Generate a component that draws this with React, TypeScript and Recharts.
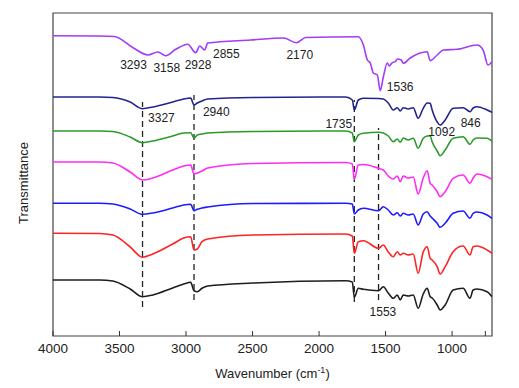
import { LineChart, Line, XAxis, YAxis, ReferenceArea, ReferenceLine, ReferenceDot } from "recharts";

// wavenumbers (cm-1) for the six lower spectra
const wavenumbers = [
  4000, 3650, 3550, 3420, 3327, 3250, 3100, 3017, 2965, 2940, 2915, 2880, 2837, 2500, 1800, 1750, 1735, 1705, 1667,
  1553, 1517, 1480, 1442, 1412, 1390, 1367, 1330, 1292, 1255, 1217, 1187, 1165, 1150, 1112, 1090, 1052, 992, 917, 865,
  842, 812, 737, 700
];

// offset transmittance (a.u.)
const navyT = [
  239, 239, 238.5, 234, 227.3, 229, 234, 237, 238, 231, 233, 235, 237, 238.5, 239, 236, 226, 236, 237.7, 237.5, 237, 233,
  226, 228.3, 225, 228.3, 227, 228.3, 217.7, 227.7, 233, 232.7, 226, 214, 211, 216, 227.7, 228.3, 224.3, 228, 229.3, 226,
  223.7
];
const greenT = [
  205, 205, 204.5, 199, 193.3, 195, 200, 203, 203.3, 198, 201, 202, 203, 204.5, 205, 203, 194.3, 201, 202.7, 203.7, 203,
  200, 194.3, 197, 193.7, 198, 196, 197.7, 187.7, 197.7, 200, 200.3, 194.3, 185, 180.3, 186, 197.7, 199.3, 191.7, 196,
  198, 197.7, 195
];
const magentaT = [
  174, 174, 173, 164, 156, 158, 166, 170, 171, 162, 163, 165, 168, 172.5, 173.5, 172, 156.7, 171, 171.5, 167.7, 166, 160,
  157, 160, 154.3, 160, 158, 159, 142, 158, 165.3, 152.7, 151, 144.3, 139.3, 144.3, 157.7, 161, 152.7, 158, 162, 159.3,
  156.7
];
const blueT = [
  132.7, 132.7, 132, 127, 121.7, 123, 128, 131, 131.7, 125.3, 126.7, 128, 129, 132.5, 132.7, 132, 122, 126, 127.7, 125.3,
  129.3, 126, 121, 123.3, 120, 122.7, 121, 122, 111, 122, 124.3, 120, 118, 112.7, 108.7, 112.7, 122.7, 125, 117.7, 122.7,
  124, 121, 117.7
];
const redT = [
  102.7, 102.5, 101, 89, 78.7, 82, 92, 98, 99.3, 86, 87, 94.3, 97, 101, 102, 100, 82.7, 94.3, 95.3, 87.7, 91, 84, 79.3,
  84.3, 81, 82.7, 81, 82, 62.7, 84, 89.3, 77.7, 76, 69.3, 62, 69.3, 84.3, 90, 81, 89.3, 90, 86, 82.7
];
const blackT = [
  56, 56, 55, 47, 39.3, 41, 48, 52, 53.7, 45.3, 44.3, 47.7, 50, 53, 55.3, 54, 38.7, 47.7, 46.7, 45.3, 49.3, 43, 37.7, 41,
  36, 41, 40, 41, 27.7, 42, 47.7, 39.3, 38, 31, 26, 31, 46, 47.7, 37.7, 46, 47, 44.3, 39.3
];

// top spectrum has its own points
const purpleW = [
  4000, 3655, 3540, 3392, 3287, 3212, 3152, 3077, 2987, 2927, 2897, 2860, 2837, 2515, 2267, 2170, 2100, 1705, 1667, 1637,
  1615, 1592, 1562, 1540, 1517, 1487, 1472, 1450, 1427, 1412, 1382, 1367, 1315, 1187, 1165, 1112, 1067, 962, 812, 767,
  730, 700
];
const purpleT = [
  300.3, 300, 299.5, 287.7, 281, 284, 280.3, 286.7, 291.7, 283.3, 290, 286, 293, 296, 298, 293.3, 298.5, 299.3, 291, 276,
  273, 263, 261, 245.3, 259, 273, 270, 273.3, 274.3, 277, 276, 272.7, 278, 284.3, 275.3, 281, 286, 286.7, 291, 286, 271,
  274.3
];

const xTicks = [4000, 3750, 3500, 3250, 3000, 2750, 2500, 2250, 2000, 1750, 1500, 1250, 1000, 750];

// peak labels: text, wavenumber, height
const peakLabels: [string, number, number][] = [
  ["3293", 3395, 271],
  ["3158", 3145, 267.7],
  ["2928", 2910, 271],
  ["2855", 2697, 282],
  ["2170", 2145, 281],
  ["1536", 1390, 249.3],
  ["3327", 3185, 217.7],
  ["2940", 2773, 224.3],
  ["1735", 1852, 211.7],
  ["1092", 1078, 204.3],
  ["846", 860, 213.3],
  ["1553", 1520, 23.7]
];

// dashed guides: wavenumber, from, to
const guides: [number, number, number][] = [
  [3327, 29, 234],
  [2940, 36, 241],
  [1735, 34, 236],
  [1553, 36, 208]
];

const toPoints = (w: number[], t: number[]) => w.map((x, i) => ({ w: x, t: t[i] }));

const series = [
  { key: "purple", color: "#a23cf5", data: toPoints(purpleW, purpleT) },
  { key: "navy", color: "#23238f", data: toPoints(wavenumbers, navyT) },
  { key: "green", color: "#2a9a2a", data: toPoints(wavenumbers, greenT) },
  { key: "magenta", color: "#ff2cf5", data: toPoints(wavenumbers, magentaT) },
  { key: "blue", color: "#1c1cff", data: toPoints(wavenumbers, blueT) },
  { key: "red", color: "#ff2323", data: toPoints(wavenumbers, redT) },
  { key: "black", color: "#1e1e1e", data: toPoints(wavenumbers, blackT) }
];

const font = "'Liberation Sans', Arial, sans-serif";

function XTick({ x, y, payload }: any) {
  const v = payload.value as number;
  return (
    <g>
      <line x1={x} y1={y} x2={x} y2={y - 5} stroke="#333" />
      {v % 500 === 0 && (
        <text x={x} y={y + 17} textAnchor="middle" fontSize={13.5} fill="#222" fontFamily={font}>
          {v}
        </text>
      )}
    </g>
  );
}

function XTitle({ viewBox }: any) {
  const cx = viewBox.x + viewBox.width / 2;
  return (
    <text x={cx} y={viewBox.y + 42} textAnchor="middle" fontSize={13} fill="#222" fontFamily={font}>
      Wavenumber (cm
      <tspan dy={-5} fontSize={9}>
        -1
      </tspan>
      <tspan dy={5}>)</tspan>
    </text>
  );
}

function PeakText({ cx, cy, text }: any) {
  return (
    <text x={cx} y={cy} dy={4} textAnchor="middle" fontSize={12} fill="#222" fontFamily={font}>
      {text}
    </text>
  );
}

export default function App() {
  return (
    <div style={{ position: "absolute", left: 0, top: 0, background: "#fff" }}>
      <LineChart width={519} height={388} margin={{ top: 13, right: 27, left: 53, bottom: 22 }}>
        <XAxis
          dataKey="w"
          type="number"
          domain={[700, 4000]}
          reversed
          allowDataOverflow
          ticks={xTicks}
          tick={<XTick />}
          tickLine={false}
          tickSize={0}
          tickMargin={0}
          height={30}
          axisLine={false}
          label={<XTitle />}
        />
        <YAxis type="number" domain={[0, 323]} hide allowDataOverflow />
        <ReferenceArea x1={4000} x2={700} y1={0} y2={323} fill="none" stroke="#444" strokeWidth={1.2} fillOpacity={0} />
        <text x={25} y={183} transform="rotate(-90 25 183)" textAnchor="middle" dominantBaseline="middle" fontSize={13} fill="#222" fontFamily={font}>
          Transmittance
        </text>
        {guides.map(([w, a, b]) => (
          <ReferenceLine
            key={w}
            segment={[
              { x: w, y: a },
              { x: w, y: b }
            ]}
            stroke="#222"
            strokeWidth={1.3}
            strokeDasharray="6 4"
          />
        ))}
        {series.map((s) => (
          <Line
            key={s.key}
            data={s.data}
            dataKey="t"
            type="monotone"
            stroke={s.color}
            strokeWidth={1.6}
            dot={false}
            isAnimationActive={false}
          />
        ))}
        {peakLabels.map(([text, w, t]) => (
          <ReferenceDot key={text} x={w} y={t} r={0} shape={(p: any) => <PeakText {...p} text={text} />} />
        ))}
      </LineChart>
    </div>
  );
}
